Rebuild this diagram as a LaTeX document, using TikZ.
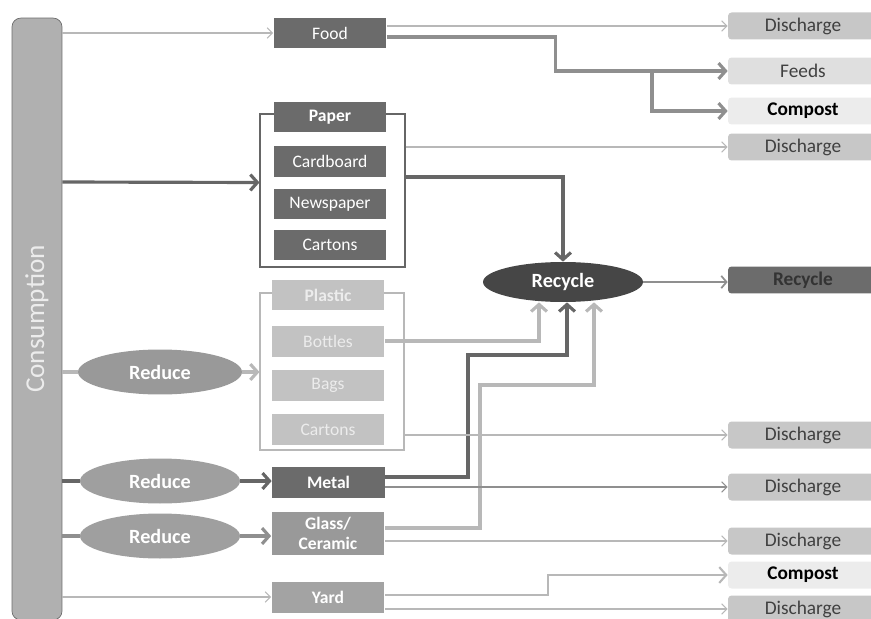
\documentclass[tikz,border=0pt]{standalone}
\usepackage{fontspec}
\setmainfont{Carlito}
\usepackage{tikz}
\usetikzlibrary{shapes.geometric,arrows.meta}
\definecolor{boxdark}{gray}{0.42}
\definecolor{boxmid}{gray}{0.6}
\definecolor{boxlight}{gray}{0.76}
\definecolor{outfill}{gray}{0.78}
\definecolor{ink}{gray}{0.4}
\definecolor{inkmid}{gray}{0.56}
\definecolor{inklight}{gray}{0.72}

\begin{document}
\begin{tikzpicture}[x=0.02cm,y=-0.02cm,
  every node/.style={font=\fontsize{11}{12}\selectfont},
  item/.style={rectangle, minimum width=2.26cm, minimum height=0.62cm, inner sep=0pt, fill=boxdark, text=white, font=\fontsize{10}{11}\selectfont},
  outbox/.style={rectangle, rounded corners=2pt, minimum width=3cm, minimum height=0.54cm, inner sep=0pt, fill=outfill, text=black!75},
  grp/.style={rectangle, draw=ink, line width=0.6pt, fill=white, inner sep=0pt},
  oval/.style={ellipse, inner sep=0pt, fill=boxmid, text=white, font=\fontsize{11.5}{13}\selectfont\bfseries},
  thinarr/.style={draw=inklight, line width=0.6pt, -{Straight Barb[length=3pt,width=6pt]}},
  fatarr/.style={line width=1.8pt, -{Straight Barb[length=4pt,width=9pt]}}]
\useasboundingbox (0,0) rectangle (871,618);

% consumption bar
\node[rectangle, rounded corners=5pt, draw=gray!85!black, fill=gray!62, minimum width=1cm, minimum height=12.04cm, inner sep=0pt, text=white!85!gray, font=\fontsize{15.5}{17}\selectfont] (cons) at (37,319) {\rotatebox{90}{Consumption}};

% groups
\node[grp, minimum width=2.9cm, minimum height=3.06cm] (paperGrp) at (332.5,190.5) {};
\node[grp, draw=inklight, minimum width=2.88cm, minimum height=3.14cm] (plasticGrp) at (332,371.5) {};

% material boxes
\node[item] (food) at (330,33) {Food};
\node[item, font=\fontsize{10}{11}\selectfont\bfseries] (paper) at (330,117) {Paper};
\node[item] (cardboard) at (330,161.5) {Cardboard};
\node[item] (newspaper) at (330,204) {Newspaper};
\node[item] (cartonsA) at (330,245) {Cartons};
\node[item, fill=boxlight, text=white!85!gray, font=\fontsize{10}{11}\selectfont\bfseries] (plastic) at (328,295) {Plastic};
\node[item, fill=boxlight, text=white!85!gray] (bottles) at (328,341) {Bottles};
\node[item, fill=boxlight, text=white!85!gray] (bags) at (328,385.5) {Bags};
\node[item, fill=boxlight, text=white!85!gray] (cartonsB) at (328,429.5) {Cartons};
\node[item, font=\fontsize{10}{11}\selectfont\bfseries] (metal) at (328.5,482.5) {Metal};
\node[item, fill=boxmid, minimum height=0.86cm, align=center, font=\fontsize{10}{11}\selectfont\bfseries] (glass) at (328,533.5) {Glass/\\Ceramic};
\node[item, fill=boxmid!90!white, font=\fontsize{10}{11}\selectfont\bfseries] (yard) at (328,597) {Yard};

% ovals
\node[oval, fill=gray!55!black, minimum width=3.2cm, minimum height=0.8cm] (recyc) at (563,282) {Recycle};
\node[oval, minimum width=3.28cm, minimum height=0.9cm] (redA) at (160,372) {Reduce};
\node[oval, fill=gray!75, minimum width=3.2cm, minimum height=0.9cm] (redB) at (160,481) {Reduce};
\node[oval, fill=gray!75, minimum width=3.2cm, minimum height=0.9cm] (redC) at (160,536) {Reduce};

% outcomes
\node[outbox] (dischA) at (803,26) {Discharge};
\node[outbox, fill=gray!25] (feeds) at (803,71) {Feeds};
\node[outbox, fill=gray!15, font=\fontsize{11}{12}\selectfont\bfseries, text=black] (compA) at (803,111) {Compost};
\node[outbox] (dischB) at (803,147) {Discharge};
\node[outbox, fill=gray!85!black, font=\fontsize{11}{12}\selectfont\bfseries, text=black!80] (recycBox) at (803,280) {Recycle};
\node[outbox] (dischC) at (803,435) {Discharge};
\node[outbox] (dischD) at (803,487) {Discharge};
\node[outbox] (dischE) at (803,541) {Discharge};
\node[outbox, fill=gray!15, font=\fontsize{11}{12}\selectfont\bfseries, text=black] (compB) at (803,575) {Compost};
\node[outbox] (dischF) at (803,609) {Discharge};

% from consumption
\draw[thinarr] (cons.east |- food) -- (food);
\draw[fatarr, draw=ink] (cons.east |- 0,182) -- ([yshift=0.16cm]paperGrp.west);
\draw[line width=1.8pt, draw=inklight] (cons.east |- redA) -- (redA);
\draw[fatarr, draw=inklight] (redA) -- (plasticGrp.west |- redA);
\draw[line width=1.8pt, draw=ink] (cons.east |- redB) -- (redB);
\draw[fatarr, draw=ink] (redB) -- (metal.west |- redB);
\draw[line width=1.8pt, draw=inkmid] (cons.east |- redC) -- (redC);
\draw[fatarr, draw=inkmid] (redC) -- (glass.west |- redC);
\draw[thinarr] (cons.east |- yard) -- (yard);

% food
\coordinate (split) at (652,71);
\draw[thinarr] (food.east |- dischA) -- (dischA);
\draw[fatarr, draw=inkmid] ([yshift=-0.08cm]food.east) -- ++(169,0) |- (feeds);
\draw[fatarr, draw=inkmid] (split) |- (compA);

% paper
\draw[thinarr] (paperGrp.east |- dischB) -- (dischB);
\draw[fatarr, draw=ink] ([yshift=0.27cm]paperGrp.east) -| (recyc.north);
\draw[line width=1pt, draw=inkmid, -{Straight Barb[length=3pt,width=7pt]}] (recyc.east) -- (recyc.east -| recycBox.west);

% plastic, metal, glass
\coordinate (mbend) at (468,355);
\coordinate (gbend) at (480,385);
\draw[fatarr, draw=inklight] (bottles.east) -| ([xshift=-0.48cm]recyc.south);
\draw[fatarr, draw=ink] ([yshift=0.11cm]metal.east) -| (mbend) -| ([xshift=0.08cm]recyc.south);
\draw[fatarr, draw=inklight] ([yshift=0.11cm]glass.east) -| (gbend) -| ([xshift=0.62cm]recyc.south);
\draw[thinarr] (plasticGrp.east |- dischC) -- (dischC);
\draw[thinarr, draw=inkmid] (metal.east |- dischD) -- (dischD);
\draw[thinarr] (glass.east |- dischE) -- (dischE);

% yard
\draw[fatarr, line width=1.2pt, draw=inklight] ([yshift=0.04cm]yard.east) -- ++(163,0) |- (compB);
\draw[thinarr] (yard.east |- dischF) -- (dischF);
\end{tikzpicture}
\end{document}
